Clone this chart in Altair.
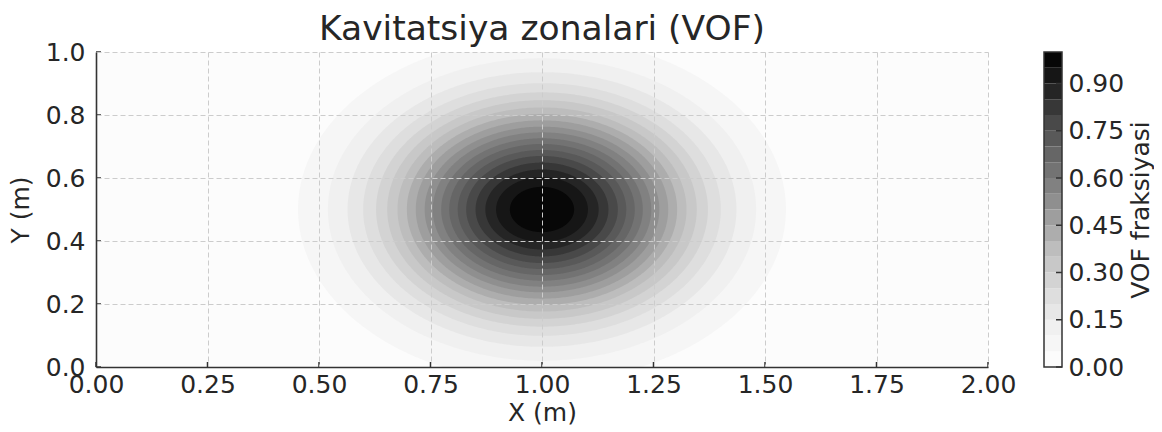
import altair as alt
import numpy as np
import pandas as pd

# ---- data ----
# contour level boundaries (VOF fraction)
levels = [0.00, 0.05, 0.10, 0.15, 0.20, 0.25, 0.30, 0.35, 0.40, 0.45, 0.50,
          0.55, 0.60, 0.65, 0.70, 0.75, 0.80, 0.85, 0.90, 0.95, 1.00]
# radius (m) of the contour line of levels 0.05 ... 0.95 around the centre
ring_radius = [0.547, 0.480, 0.436, 0.401, 0.372, 0.347, 0.324, 0.303, 0.283, 0.263,
               0.245, 0.226, 0.208, 0.189, 0.170, 0.149, 0.127, 0.103, 0.072]
center_x = 1.0
center_y = 0.5
x_range = [0.0, 2.0]
y_range = [0.0, 1.0]
x_ticks = [0.0, 0.25, 0.5, 0.75, 1.0, 1.25, 1.5, 1.75, 2.0]
y_ticks = [0.0, 0.2, 0.4, 0.6, 0.8, 1.0]
cbar_ticks = [0.0, 0.15, 0.30, 0.45, 0.60, 0.75, 0.90]

# ---- styling ----
TXT = "#262626"
SPINE = "#333333"
FONT = "DejaVu Sans"
FS = 25
W, H = 892, 315
CB_W = 18

# Greys colormap anchors -> colour of each band (band midpoint)
anc_pos = np.linspace(0, 1, 9)
anc_val = [255, 240, 217, 189, 150, 115, 82, 37, 0]
mids = [(levels[i] + levels[i + 1]) / 2 for i in range(len(levels) - 1)]
band_colors = []
for m in mids:
    g = int(round(np.interp(m, anc_pos, anc_val)))
    band_colors.append("#{0:02x}{0:02x}{0:02x}".format(g))

# outline of each contour (filled ellipse in data units)
theta = np.linspace(0, np.pi, 241)
rows = []
for k, r in enumerate(ring_radius, start=1):
    for t in theta:
        rows.append({"band": k,
                     "x": float(center_x + r * np.cos(t)),
                     "y": float(center_y + r * np.sin(t)),
                     "y2": float(center_y - r * np.sin(t))})
ring_df = pd.DataFrame(rows)

xs = alt.Scale(domain=x_range, nice=False, zero=False)
ys = alt.Scale(domain=y_range, nice=False, zero=False)

axis_common = dict(
    labelFont=FONT, labelFontSize=FS, labelColor=TXT, labelFlush=False,
    titleFont=FONT, titleFontSize=FS, titleColor=TXT, titleFontWeight="normal",
    domainColor=SPINE, domainWidth=1.6, tickSize=0,
    grid=True, gridColor="#cccccc", gridDash=[5, 3], gridWidth=1,
    zindex=1,
)

bg_df = pd.DataFrame({"x": [x_range[0]], "x2": [x_range[1]],
                      "y": [y_range[0]], "y2": [y_range[1]]})
background = alt.Chart(bg_df).mark_rect(color=band_colors[0]).encode(
    x=alt.X("x:Q", scale=xs,
            axis=alt.Axis(values=x_ticks, format=".2f", title="X (m)",
                          labelPadding=5, titlePadding=3, **axis_common)),
    x2="x2:Q",
    y=alt.Y("y:Q", scale=ys,
            axis=alt.Axis(values=y_ticks, format=".1f", title="Y (m)",
                          labelPadding=11, titlePadding=12, **axis_common)),
    y2="y2:Q",
)

layers = [background]
for k in range(1, len(ring_radius) + 1):
    layers.append(
        alt.Chart(ring_df[ring_df["band"] == k])
        .mark_area(clip=True, color=band_colors[k])
        .encode(
            x=alt.X("x:Q", scale=xs),
            y=alt.Y("y:Q", scale=ys),
            y2="y2:Q",
        )
    )

xt_df = pd.DataFrame({"v": x_ticks})
yt_df = pd.DataFrame({"v": y_ticks})
xtick = alt.Chart(xt_df).mark_rule(color=SPINE, strokeWidth=1.5).encode(
    x=alt.X("v:Q", scale=xs), y=alt.value(H), y2=alt.value(H - 5))
ytick = alt.Chart(yt_df).mark_rule(color=SPINE, strokeWidth=1.5).encode(
    y=alt.Y("v:Q", scale=ys), x=alt.value(0), x2=alt.value(5))

main = alt.layer(*layers, xtick, ytick).properties(
    width=W, height=H,
    title=alt.Title("Kavitatsiya zonalari (VOF)", font=FONT, fontSize=34.5,
                    fontWeight="normal", color=TXT, offset=-7),
)

cb_df = pd.DataFrame({"lo": levels[:-1], "hi": levels[1:],
                      "band": list(range(len(levels) - 1))})
cbar_rect = alt.Chart(cb_df).mark_rect().encode(
    y=alt.Y("lo:Q", scale=ys,
            axis=alt.Axis(orient="right", values=cbar_ticks, format=".2f",
                          title="VOF fraksiyasi", titleAngle=270, titleBaseline="top",
                          labelFont=FONT, labelFontSize=FS, labelColor=TXT,
                          titleFont=FONT, titleFontSize=FS, titleColor=TXT,
                          titleFontWeight="normal", domain=False, grid=False,
                          tickSize=0, labelPadding=6, titlePadding=5)),
    y2="hi:Q",
    x=alt.value(0), x2=alt.value(CB_W),
    color=alt.Color("band:O", scale=alt.Scale(domain=list(range(len(band_colors))),
                                              range=band_colors), legend=None),
)
frame_df = pd.DataFrame({"lo": [y_range[0]], "hi": [y_range[1]]})
cbar_frame = alt.Chart(frame_df).mark_rect(
    fillOpacity=0, stroke=SPINE, strokeWidth=1.5).encode(
    y=alt.Y("lo:Q", scale=ys), y2="hi:Q", x=alt.value(0), x2=alt.value(CB_W))
ct_df = pd.DataFrame({"v": cbar_ticks})
cbar_tick = alt.Chart(ct_df).mark_rule(color=SPINE, strokeWidth=1.5).encode(
    y=alt.Y("v:Q", scale=ys), x=alt.value(CB_W - 6), x2=alt.value(CB_W))
cbar = alt.layer(cbar_rect, cbar_tick, cbar_frame).properties(width=CB_W, height=H)

chart = alt.hconcat(main, cbar, spacing=56, bounds="flush").properties(
    padding={"left": 0, "top": 3, "right": 0, "bottom": 0}
).configure(font=FONT).configure_view(strokeWidth=0).resolve_scale(color="independent")

chart.save("out.html", embed_options={"renderer": "svg", "actions": False})
